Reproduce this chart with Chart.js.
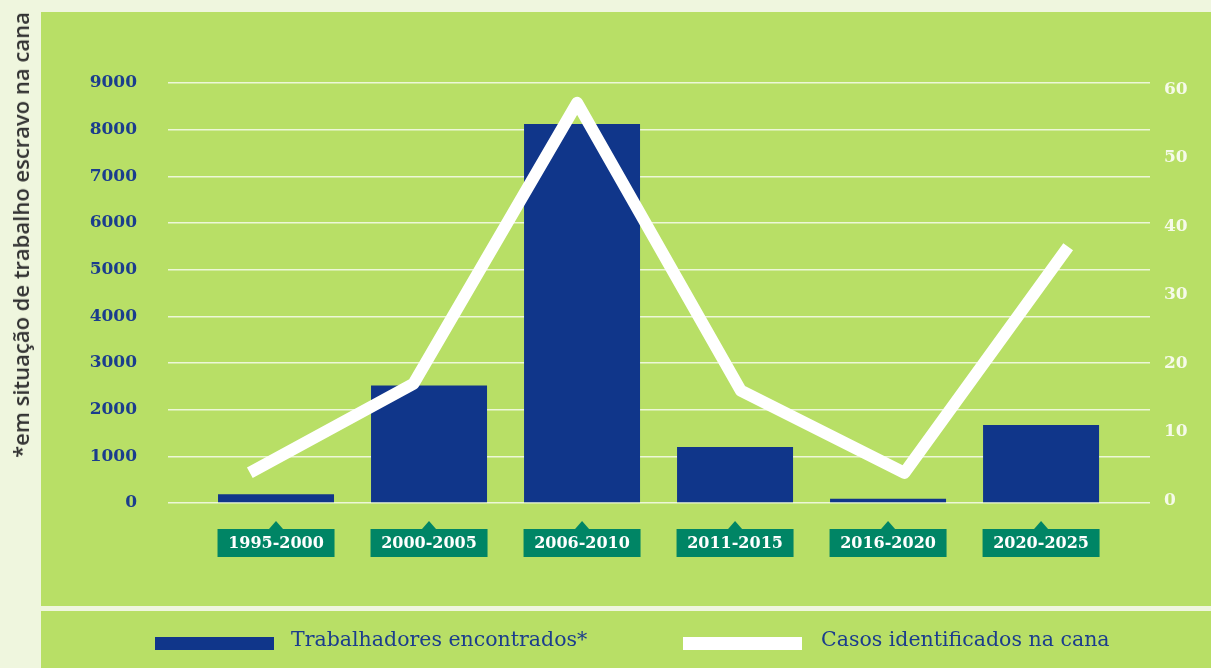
<!DOCTYPE html>
<html>
<head>
<meta charset="utf-8">
<script src="https://cdn.jsdelivr.net/npm/chart.js"></script>
<style>
  html, body { margin: 0; padding: 0; }
  body { width: 1211px; height: 668px; background: #eff6de; position: relative; overflow: hidden; }
  .panel { position: absolute; background: #b8df66; }
  #chart { position: absolute; left: 0; top: 0; }
  #ytitle {
    position: absolute; left: 20px; top: 235px;
    transform: translate(-50%, -50%) rotate(-90deg);
    white-space: nowrap; font: 600 22px "Open Sans", sans-serif; color: #333333;
  }
  .swatch { position: absolute; height: 13px; width: 119px; top: 637px; }
  .leg { position: absolute; top: 627px; font: 20.5px "DejaVu Serif", serif; color: #1b3d8d; white-space: nowrap; }
</style>
</head>
<body>
<div class="panel" style="left:41px; top:12px; width:1170px; height:594px;"></div>
<div class="panel" style="left:41px; top:611px; width:1170px; height:57px;"></div>
<canvas id="chart" width="1211" height="668"></canvas>
<div id="ytitle">*em situação de trabalho escravo na cana</div>
<div class="swatch" style="left:155px; background:#10368a;"></div>
<div class="leg" style="left:291px;">Trabalhadores encontrados*</div>
<div class="swatch" style="left:683px; background:#ffffff;"></div>
<div class="leg" style="left:821px;">Casos identificados na cana</div>
<script>
const periods = ['1995-2000', '2000-2005', '2006-2010', '2011-2015', '2016-2020', '2020-2025'];
const workers = [190, 2520, 8120, 1200, 90, 1670];
const cases = [4, 17, 58, 16, 4, 37];
const leftTicks = [0, 1000, 2000, 3000, 4000, 5000, 6000, 7000, 8000, 9000];
const rightTicks = [0, 10, 20, 30, 40, 50, 60];

const BLUE = '#10368a';
const LABEL_GREEN = '#008565';

// green tag boxes under each bar, with a small pointer on top
const periodTags = {
    id: 'periodTags',
    afterDraw(chart) {
        const ctx = chart.ctx;
        const xs = chart.scales.x2;
        ctx.save();
        periods.forEach((p, i) => {
            const cx = xs.getPixelForValue(i);
            ctx.fillStyle = LABEL_GREEN;
            ctx.fillRect(cx - 58.5, 529, 117, 28);
            ctx.beginPath();
            ctx.moveTo(cx - 7, 529);
            ctx.lineTo(cx, 521);
            ctx.lineTo(cx + 7, 529);
            ctx.closePath();
            ctx.fill();
            ctx.fillStyle = '#ffffff';
            ctx.font = 'bold 16px "DejaVu Serif", serif';
            ctx.textAlign = 'center';
            ctx.textBaseline = 'middle';
            ctx.fillText(p, cx, 544);
        });
        ctx.restore();
    }
};

new Chart(document.getElementById('chart').getContext('2d'), {
    type: 'bar',
    data: {
        labels: periods,
        datasets: [
            {
                type: 'line',
                label: 'Casos identificados na cana',
                data: cases,
                xAxisID: 'x',
                yAxisID: 'y1',
                borderColor: '#ffffff',
                borderWidth: 12,
                borderJoinStyle: 'round',
                borderCapStyle: 'butt',
                pointRadius: 0,
                tension: 0,
                order: 0
            },
            {
                type: 'bar',
                label: 'Trabalhadores encontrados*',
                data: workers.map((v, i) => ({ x: i, y: v })),
                xAxisID: 'x2',
                yAxisID: 'y',
                backgroundColor: BLUE,
                grouped: false,
                categoryPercentage: 1,
                barPercentage: 1.2,
                maxBarThickness: 116,
                order: 1
            }
        ]
    },
    options: {
        responsive: false,
        animation: false,
        layout: { padding: { top: 83, bottom: 165, left: 0, right: 0 } },
        plugins: { legend: { display: false }, tooltip: { enabled: false } },
        scales: {
            x: { type: 'category', display: false, offset: true, grid: { display: false } },
            x2: { type: 'linear', display: false, offset: false, min: -0.706, max: 5.712, grid: { display: false } },
            y: {
                position: 'left',
                min: 0,
                max: 9000,
                afterBuildTicks: s => { s.ticks = leftTicks.map(v => ({ value: v })); },
                afterFit: s => { s.width = 168; },
                border: { display: false },
                grid: { color: 'rgba(246,251,236,0.85)', lineWidth: 1.5, drawTicks: false },
                ticks: {
                    color: '#1b3d8d', padding: 31,
                    font: { family: 'DejaVu Serif', size: 17, weight: 'bold' },
                    callback: v => String(v)
                }
            },
            y1: {
                position: 'right',
                min: -0.4,
                max: 60.9,
                afterBuildTicks: s => { s.ticks = rightTicks.map(v => ({ value: v })); },
                afterFit: s => { s.width = 61; },
                border: { display: false },
                grid: { display: false, drawTicks: false },
                ticks: {
                    color: '#f6faea', padding: 14,
                    font: { family: 'DejaVu Serif', size: 17, weight: 'bold' },
                    callback: v => String(v)
                }
            }
        }
    },
    plugins: [periodTags]
});
</script>
</body>
</html>
